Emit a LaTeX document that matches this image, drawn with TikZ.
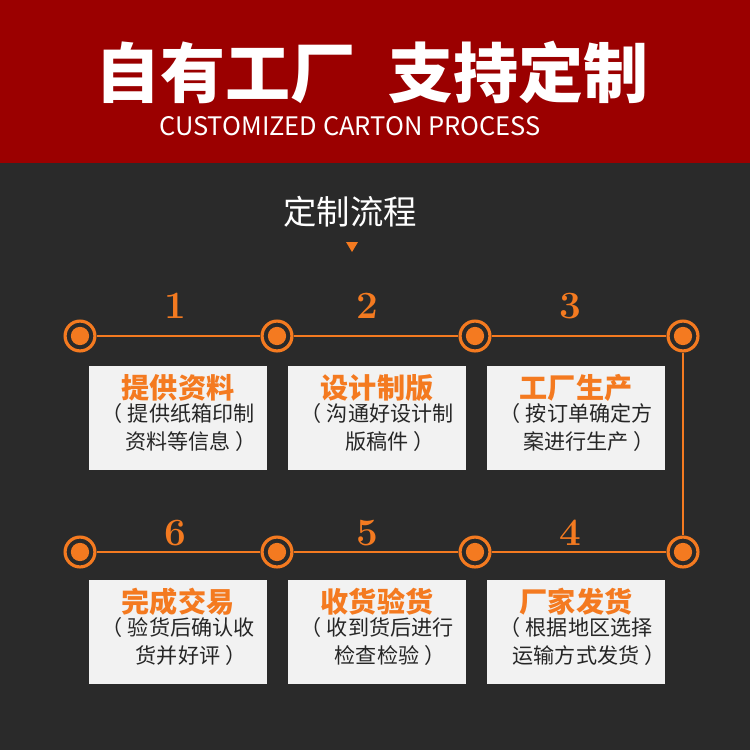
\documentclass[tikz,border=0pt]{standalone}
\usepackage{fontspec}
\newfontfamily\cjk{Noto Sans CJK SC}
\usetikzlibrary{positioning}
\definecolor{bandred}{HTML}{9B0000}
\definecolor{bgdark}{HTML}{2A2A2A}
\definecolor{flow}{HTML}{F47A20}
\tikzset{
  dot/.style={circle, draw=flow, line width=1.8pt, fill=bgdark, minimum size=17pt, inner sep=0pt,
    path picture={\fill[flow] (path picture bounding box.center) circle (5.2pt);}},
  num/.style={text=flow, font=\bfseries\fontsize{22}{22}\selectfont},
  card/.style={fill=white!95!black, minimum width=178\px, minimum height=104\px, inner sep=0pt},
  head/.style={text=flow, font=\cjk\bfseries\fontsize{16}{16}\selectfont},
  body/.style={text=black!85, font=\cjk\fontsize{12}{15.5}\selectfont, align=center},
}
\newlength{\px}\setlength{\px}{0.02cm}
\newcommand{\flowcard}[4]{\node[card] (#1) at (#2) {};
  \node[head] at ([yshift=-22\px]#1.north) {#3};
  \node[body, below=32\px of #1.north] {#4};}
\newcommand{\lp}{（\hspace{0.25em}}
\newcommand{\rp}{\hspace{0.25em}）}
\begin{document}
\begin{tikzpicture}[x=0.02cm, y=-0.02cm]
\fill[bgdark] (0,0) rectangle (750,750);
\fill[bandred] (0,0) rectangle (750,163);
\node[text=white, font=\cjk\bfseries\fontsize{37}{37}\selectfont] (title) at (372,72) {自有工厂\hspace{0.5em}支持定制};
\node[text=white, font=\cjk\fontsize{14.5}{15}\selectfont] (sub) at (350,126) {CUSTOMIZED CARTON PROCESS};
\node[text=white, font=\cjk\fontsize{19}{19}\selectfont] (step) at (350,212) {定制流程};
\fill[flow] (346,242) -- (358,242) -- (352,252) -- cycle;

% row one
\node[dot] (a1) at (80,336) {};
\node[dot] (a2) at (277,336) {};
\node[dot] (a3) at (475,336) {};
\node[dot] (a4) at (683,336) {};
% row two
\node[dot] (b1) at (80,552) {};
\node[dot] (b2) at (277,552) {};
\node[dot] (b3) at (475,552) {};
\node[dot] (b4) at (683,552) {};
\draw[flow, line width=1.6pt] (a1) -- (a2) -- (a3) -- (a4) -- (b4) -- (b3) -- (b2) -- (b1);

\node[num] (n1) at (175,306) {1};
\node[num] (n2) at (367,306) {2};
\node[num] (n3) at (570,306) {3};
\node[num] (n6) at (175,533) {6};
\node[num] (n5) at (367,533) {5};
\node[num] (n4) at (570,533) {4};

\flowcard{c1}{178,418}{提供资料}{\lp 提供纸箱印制\\\phantom{\lp}资料等信息\rp}
\flowcard{c2}{377,418}{设计制版}{\lp 沟通好设计制\\\phantom{\lp}版稿件\rp}
\flowcard{c3}{576,418}{工厂生产}{\lp 按订单确定方\\\phantom{\lp}案进行生产\rp}
\flowcard{c6}{178,632}{完成交易}{\lp 验货后确认收\\\phantom{\lp}货并好评\rp}
\flowcard{c5}{377,632}{收货验货}{\lp 收到货后进行\\\phantom{\lp}检查检验\rp}
\flowcard{c4}{576,632}{厂家发货}{\lp 根据地区选择\\\phantom{\lp}运输方式发货\rp}
\end{tikzpicture}
\end{document}
